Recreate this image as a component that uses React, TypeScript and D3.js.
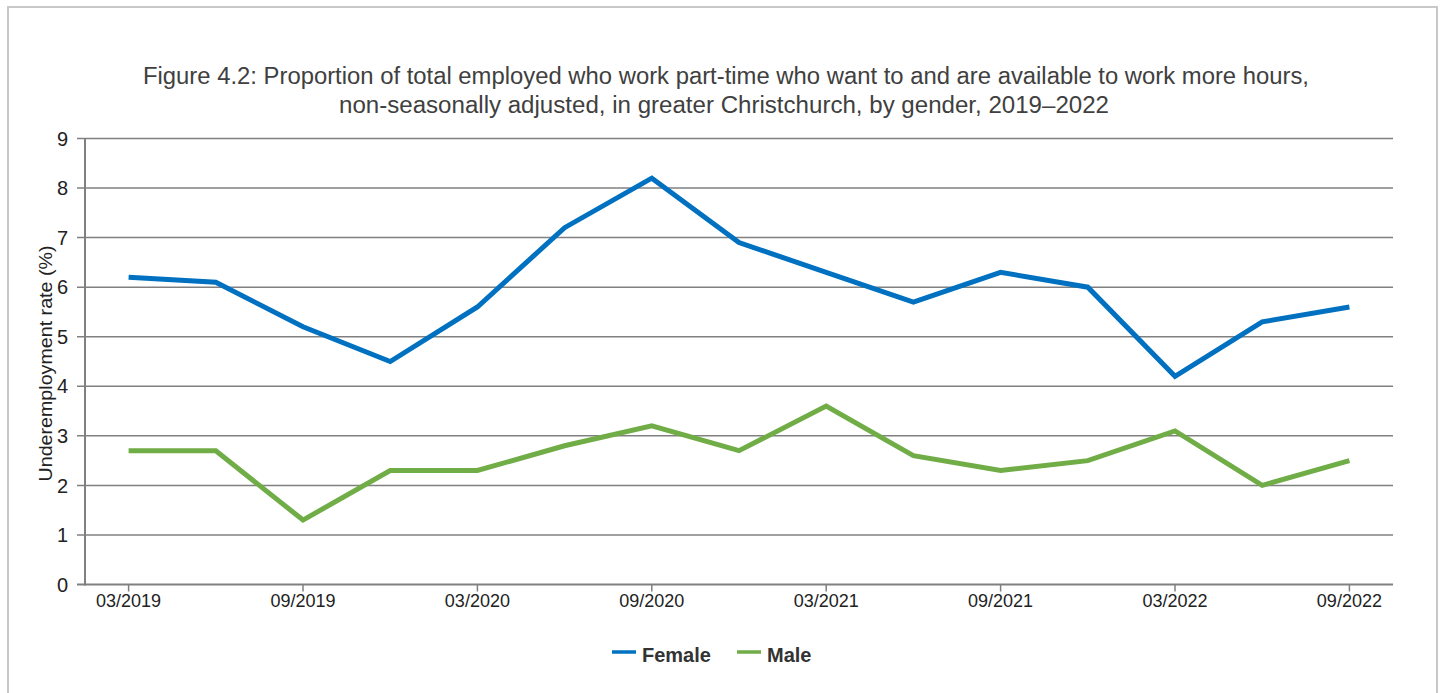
import React from "react";
import * as d3 from "d3";

const quarters = [
  "03/2019", "06/2019", "09/2019", "12/2019",
  "03/2020", "06/2020", "09/2020", "12/2020",
  "03/2021", "06/2021", "09/2021", "12/2021",
  "03/2022", "06/2022", "09/2022",
];
const labelledQuarters = ["03/2019", "09/2019", "03/2020", "09/2020", "03/2021", "09/2021", "03/2022", "09/2022"];
const female = [6.2, 6.1, 5.2, 4.5, 5.6, 7.2, 8.2, 6.9, 6.3, 5.7, 6.3, 6.0, 4.2, 5.3, 5.6];
const male = [2.7, 2.7, 1.3, 2.3, 2.3, 2.8, 3.2, 2.7, 3.6, 2.6, 2.3, 2.5, 3.1, 2.0, 2.5];
const yTicks = [0, 1, 2, 3, 4, 5, 6, 7, 8, 9];
const titleLines = [
  "Figure 4.2: Proportion of total employed who work part-time who want to and are available to work more hours,",
  "non-seasonally adjusted, in greater Christchurch, by gender, 2019\u20132022",
];
const yAxisTitle = "Underemployment rate (%)";
const seriesNames = ["Female", "Male"];
const seriesColors = ["#0070C0", "#70AD47"];

export default function App() {
  const W = 1444, H = 693;
  const left = 85, right = 1393, top = 138.5, bottom = 584.5;
  const x = d3.scalePoint<string>().domain(quarters).range([left, right]).padding(0.5);
  const y = d3.scaleLinear().domain([0, 9]).range([bottom, top]);
  const line = d3.line<number>().x((_, i) => x(quarters[i]) as number).y((d) => y(d));
  const font = "'Liberation Sans', Arial, sans-serif";
  const series = [female, male];
  const legendX = [612, 737];
  const legendTextX = [642, 767];

  return (
    <svg width={W} height={H} style={{ position: "absolute", left: 0, top: 0 }} fontFamily={font}>
      <rect x={0} y={0} width={W} height={H} fill="#fff" />
      <rect x={8} y={7} width={1429} height={720} fill="#fff" stroke="#c8c8c8" strokeWidth={2} />
      {titleLines.map((t, i) => (
        <text
          key={i}
          x={i === 0 ? 143 : 339}
          y={i === 0 ? 83.5 : 113}
          fontSize={23}
          fill="#404040"
          textLength={i === 0 ? 1166 : 770}
          lengthAdjust="spacingAndGlyphs"
        >
          {t}
        </text>
      ))}
      {yTicks.map((v) => (
        <g key={v}>
          <line x1={77} x2={v === 0 ? right : right} y1={y(v)} y2={y(v)} stroke="#808080" strokeWidth={v === 0 ? 2 : 1.5} />
          <text x={68} y={y(v)} dy="0.36em" textAnchor="end" fontSize={20} fill="#222">
            {v}
          </text>
        </g>
      ))}
      <line x1={left} x2={left} y1={top} y2={bottom + 1} stroke="#808080" strokeWidth={2} />
      {labelledQuarters.map((q) => (
        <g key={q}>
          <line x1={x(q)} x2={x(q)} y1={bottom} y2={bottom + 7} stroke="#808080" strokeWidth={1.5} />
          <text x={x(q)} y={607} textAnchor="middle" fontSize={18} fill="#222">
            {q}
          </text>
        </g>
      ))}
      <text
        transform={`translate(52,${(242 + 485) / 2}) rotate(-90)`}
        textAnchor="middle"
        fontSize={18.5}
        fill="#222"
        textLength={236}
        lengthAdjust="spacingAndGlyphs"
      >
        {yAxisTitle}
      </text>
      {series.map((s, i) => (
        <path key={i} d={line(s) || ""} fill="none" stroke={seriesColors[i]} strokeWidth={5} strokeLinejoin="miter" />
      ))}
      {seriesNames.map((n, i) => (
        <g key={n}>
          <line x1={legendX[i]} x2={legendX[i] + 24} y1={652} y2={652} stroke={seriesColors[i]} strokeWidth={3.5} />
          <text x={legendTextX[i]} y={661.5} fontSize={20} fontWeight="bold" fill="#333">
            {n}
          </text>
        </g>
      ))}
    </svg>
  );
}
